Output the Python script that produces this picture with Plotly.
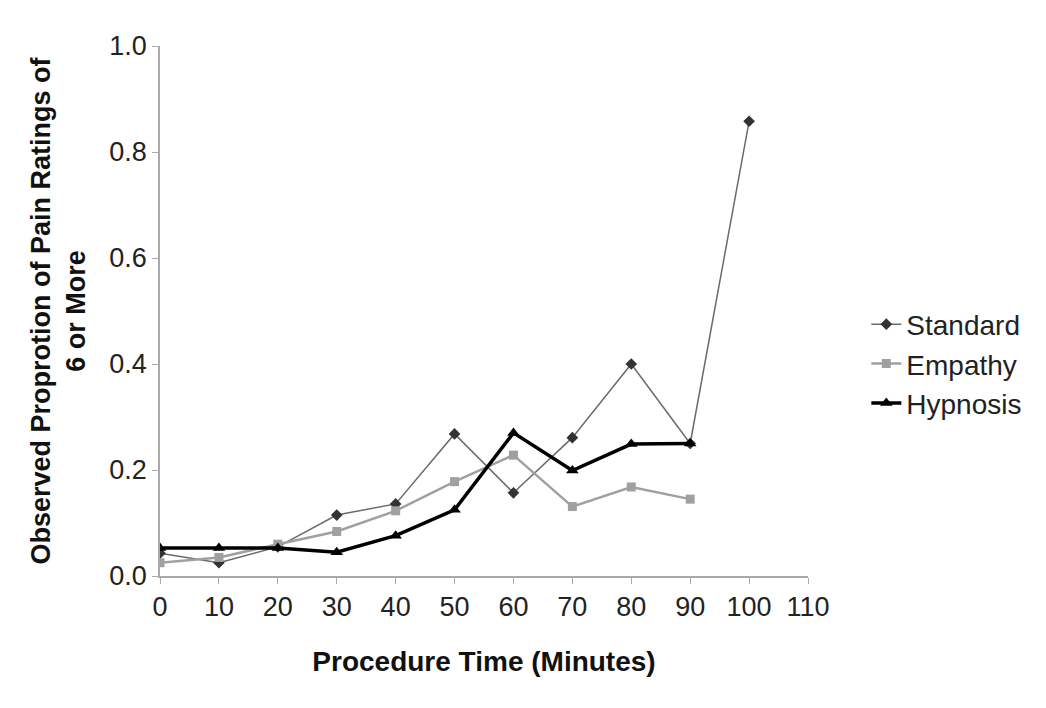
import plotly.graph_objects as go

time_min = [0, 10, 20, 30, 40, 50, 60, 70, 80, 90, 100]
standard = [0.043, 0.025, 0.055, 0.115, 0.136, 0.268, 0.157, 0.261, 0.400, 0.250, 0.858]
empathy = [0.025, 0.035, 0.060, 0.084, 0.123, 0.178, 0.228, 0.131, 0.168, 0.145]
hypnosis = [0.053, 0.053, 0.053, 0.045, 0.076, 0.125, 0.270, 0.199, 0.249, 0.250]

fig = go.Figure()
fig.add_trace(go.Scatter(x=time_min, y=standard, name="Standard", mode="lines+markers",
                         line=dict(color="#6a6a6a", width=1.5),
                         marker=dict(symbol="diamond", size=9, color="#333333")))
fig.add_trace(go.Scatter(x=time_min[:len(empathy)], y=empathy, name="Empathy", mode="lines+markers",
                         line=dict(color="#a0a0a0", width=2.5),
                         marker=dict(symbol="square", size=9, color="#a0a0a0")))
fig.add_trace(go.Scatter(x=time_min[:len(hypnosis)], y=hypnosis, name="Hypnosis", mode="lines+markers",
                         line=dict(color="#000000", width=3.5),
                         marker=dict(symbol="triangle-up", size=11, color="#000000")))

axis_font = dict(family="Arial, Liberation Sans, sans-serif", size=27, color="#222222")
fig.update_layout(
    width=1046, height=708,
    paper_bgcolor="white", plot_bgcolor="white",
    margin=dict(l=152, r=246, t=38, b=140),
    font=dict(family="Arial, Liberation Sans, sans-serif", size=27, color="#222222"),
    xaxis=dict(range=[0, 110], tickvals=list(range(0, 111, 10)), showgrid=False, zeroline=False,
               showline=True, linecolor="#aaaaaa", linewidth=1.5, ticks="outside", ticklen=6,
               tickcolor="#aaaaaa", tickfont=axis_font, automargin=False,
               title=dict(text="<b>Procedure Time (Minutes)</b>", font=dict(size=28, color="#111111"), standoff=30)),
    yaxis=dict(range=[0, 1.0], tickvals=[0, 0.2, 0.4, 0.6, 0.8, 1.0], tickformat=".1f", showgrid=False,
               zeroline=False, showline=True, linecolor="#aaaaaa", linewidth=1.5, ticks="outside",
               ticklen=6, tickcolor="#aaaaaa", tickfont=axis_font, automargin=False,
               title=dict(text="<b>Observed Proprotion of Pain Ratings of<br>6 or More</b>",
                          font=dict(size=27, color="#111111"), standoff=16)),
    legend=dict(x=1.09, y=0.40, xanchor="left", yanchor="middle", font=dict(size=28, color="#222222"),
                bgcolor="rgba(0,0,0,0)", tracegroupgap=2),
    showlegend=True,
)
fig.write_html("out.html")
